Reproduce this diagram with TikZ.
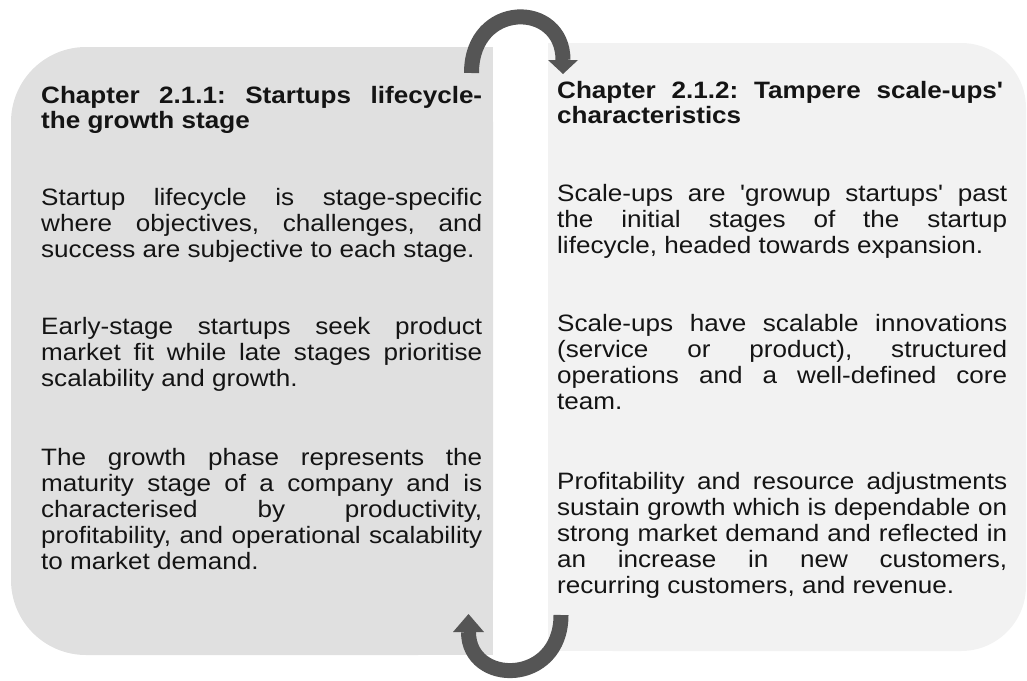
\documentclass[tikz,border=0pt]{standalone}
\usepackage{fontspec}
\setmainfont{Liberation Sans}[FakeStretch=1.1, Ligatures=TeXOff]
\usetikzlibrary{calc}
\definecolor{leftpanel}{HTML}{E0E0E0}
\definecolor{rightpanel}{HTML}{F2F2F2}
\definecolor{arrowgray}{HTML}{555555}
\definecolor{inktext}{HTML}{141414}
% one justified line filling the current column
\newcommand\jline[1]{\makebox[\linewidth][s]{#1}}
\begin{document}
\begin{tikzpicture}[x=1pt,y=-1pt,
  txt/.style={inner sep=0pt, anchor=base west, text=inktext,
    font=\fontsize{23.7}{26}\selectfont\frenchspacing},
  headtxt/.style={txt, font=\fontsize{23.7}{25}\selectfont\bfseries\frenchspacing},
  archline/.style={draw=arrowgray, line width=15pt},
  tiphead/.style={fill=arrowgray}]
\useasboundingbox (0,0) rectangle (1027,680);

% panels: rounded on the outer side, square towards the middle
\fill[leftpanel, rounded corners=75pt] (11,47) rectangle (493,655);
\fill[leftpanel] (300,47) rectangle (493,655);
\fill[rightpanel, rounded corners=65pt] (548,43) rectangle (1026,651);
\fill[rightpanel] (548,43) rectangle (800,651);

% curved arrows between the two chapters
\coordinate (topA) at (471.5,73);
\coordinate (topB) at (563,60);
\coordinate (topTip) at (563,74);
\draw[archline] (topA) .. controls (471.5,0.5) and (563,0.5) .. (topB);
\fill[tiphead] ($(topB)+(-15,0)$) -- ($(topB)+(15,0)$) -- (topTip) -- cycle;

\coordinate (botA) at (561,615);
\coordinate (botB) at (468.5,632);
\coordinate (botTip) at (468.5,614);
\draw[archline] (botA) .. controls (561,686) and (468.5,686) .. (botB);
\fill[tiphead] ($(botB)+(-15.5,0)$) -- ($(botB)+(15.5,0)$) -- (botTip) -- cycle;

% left column
\node[headtxt] (lhead) at (41,103) {\parbox[t]{441pt}{%
  \jline{Chapter 2.1.1: Startups lifecycle-}\\
  the growth stage}};
\node[txt] (lp1) at (41,205) {\parbox[t]{441pt}{%
  \jline{Startup lifecycle is stage-specific}\\
  \jline{where objectives, challenges, and}\\
  success are subjective to each stage.}};
\node[txt] (lp2) at (41,334) {\parbox[t]{441pt}{%
  \jline{Early-stage startups seek product}\\
  \jline{market fit while late stages prioritise}\\
  scalability and growth.}};
\node[txt] (lp3) at (41,465) {\parbox[t]{441pt}{%
  \jline{The growth phase represents the}\\
  \jline{maturity stage of a company and is}\\
  \jline{characterised by productivity,}\\
  \jline{profitability, and operational scalability}\\
  to market demand.}};

% right column
\node[headtxt] (rhead) at (557,98) {\parbox[t]{446pt}{%
  \jline{Chapter 2.1.2: Tampere scale-ups'}\\
  characteristics}};
\node[txt] (rp1) at (557,201) {\parbox[t]{450pt}{%
  \jline{Scale-ups are 'growup startups' past}\\
  \jline{the initial stages of the startup}\\
  lifecycle, headed towards expansion.}};
\node[txt] (rp2) at (557,331) {\parbox[t]{450pt}{%
  \jline{Scale-ups have scalable innovations}\\
  \jline{(service or product), structured}\\
  \jline{operations and a well-defined core}\\
  team.}};
\node[txt] (rp3) at (557,489) {\parbox[t]{450pt}{%
  \jline{Profitability and resource adjustments}\\
  \jline{sustain growth which is dependable on}\\
  \jline{strong market demand and reflected in}\\
  \jline{an increase in new customers,}\\
  recurring customers, and revenue.}};
\end{tikzpicture}
\end{document}
